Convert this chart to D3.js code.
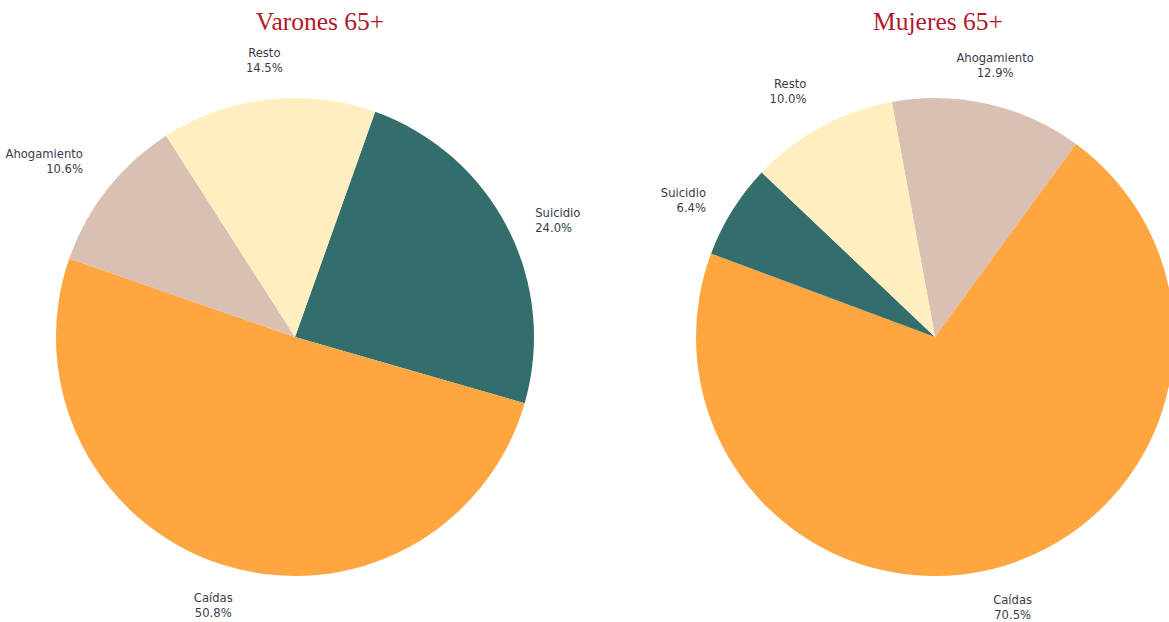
<!DOCTYPE html>
<html>
<head>
<meta charset="utf-8">
<script src="https://cdn.jsdelivr.net/npm/d3@7"></script>
<style>
  body { margin: 0; background: #fff; overflow: hidden; }
  .title { font-family: "Liberation Serif", serif; font-size: 25.5px; fill: #b0182c; }
  .lbl { font-family: "DejaVu Sans", sans-serif; font-size: 11.6px; fill: #3a3a4c; }
</style>
</head>
<body>
<div id="chart"></div>
<script>
// data, in drawing order (clockwise)
var varonesCats = ["Suicidio", "Caídas", "Ahogamiento", "Resto"];
var varonesVals = [24.0, 50.8, 10.6, 14.5];
var mujeresCats = ["Ahogamiento", "Caídas", "Suicidio", "Resto"];
var mujeresVals = [12.9, 70.5, 6.4, 10.0];
var titles = ["Varones 65+", "Mujeres 65+"];

var colors = {
    "Suicidio": "#336e6c",
    "Caídas": "#ffa640",
    "Ahogamiento": "#d9c0b2",
    "Resto": "#ffeebf"
};

var width = 1169, height = 622;
var radius = 239;
var labelR = 270;

var svg = d3.select("#chart")
    .append("svg")
    .attr("width", width)
    .attr("height", height);

var panels = [
    { cats: varonesCats, vals: varonesVals, cx: 295, cy: 337, start: 19.6, tx: 320 },
    { cats: mujeresCats, vals: mujeresVals, cx: 935, cy: 337, start: -10.4, tx: 938 }
];

panels.forEach(function(p, i) {
    var data = p.cats.map(function(c, j) { return { cat: c, val: p.vals[j] }; });
    var a0 = p.start * Math.PI / 180;

    var pie = d3.pie()
        .sort(null)
        .value(function(d) { return d.val; })
        .startAngle(a0)
        .endAngle(a0 + 2 * Math.PI);

    var arc = d3.arc().innerRadius(0).outerRadius(radius);

    svg.append("text")
        .attr("class", "title")
        .attr("x", p.tx)
        .attr("y", 30)
        .attr("text-anchor", "middle")
        .text(titles[i]);

    var g = svg.append("g")
        .attr("transform", "translate(" + p.cx + "," + p.cy + ")");

    var arcs = pie(data);

    g.selectAll("path")
        .data(arcs)
        .enter()
        .append("path")
        .attr("d", arc)
        .attr("fill", function(d) { return colors[d.data.cat]; });

    // labels placed outside each slice
    arcs.forEach(function(d) {
        var a = (d.startAngle + d.endAngle) / 2;
        var s = Math.sin(a), c = Math.cos(a);
        var x = labelR * s, y = -labelR * c;
        var anchor = s > 0.35 ? "start" : (s < -0.35 ? "end" : "middle");
        var lh = 15;
        var top;
        if (c > 0.55) top = y - 2 * lh + 7;        // box above point
        else if (c < -0.55) top = y - 3;           // box below point
        else top = y - lh + 7;                     // centred
        var t = g.append("text")
            .attr("class", "lbl")
            .attr("text-anchor", anchor);
        t.append("tspan").attr("x", x).attr("y", top + 11).text(d.data.cat);
        t.append("tspan").attr("x", x).attr("y", top + 11 + lh).text(d.data.val.toFixed(1) + "%");
    });
});
</script>
</body>
</html>
